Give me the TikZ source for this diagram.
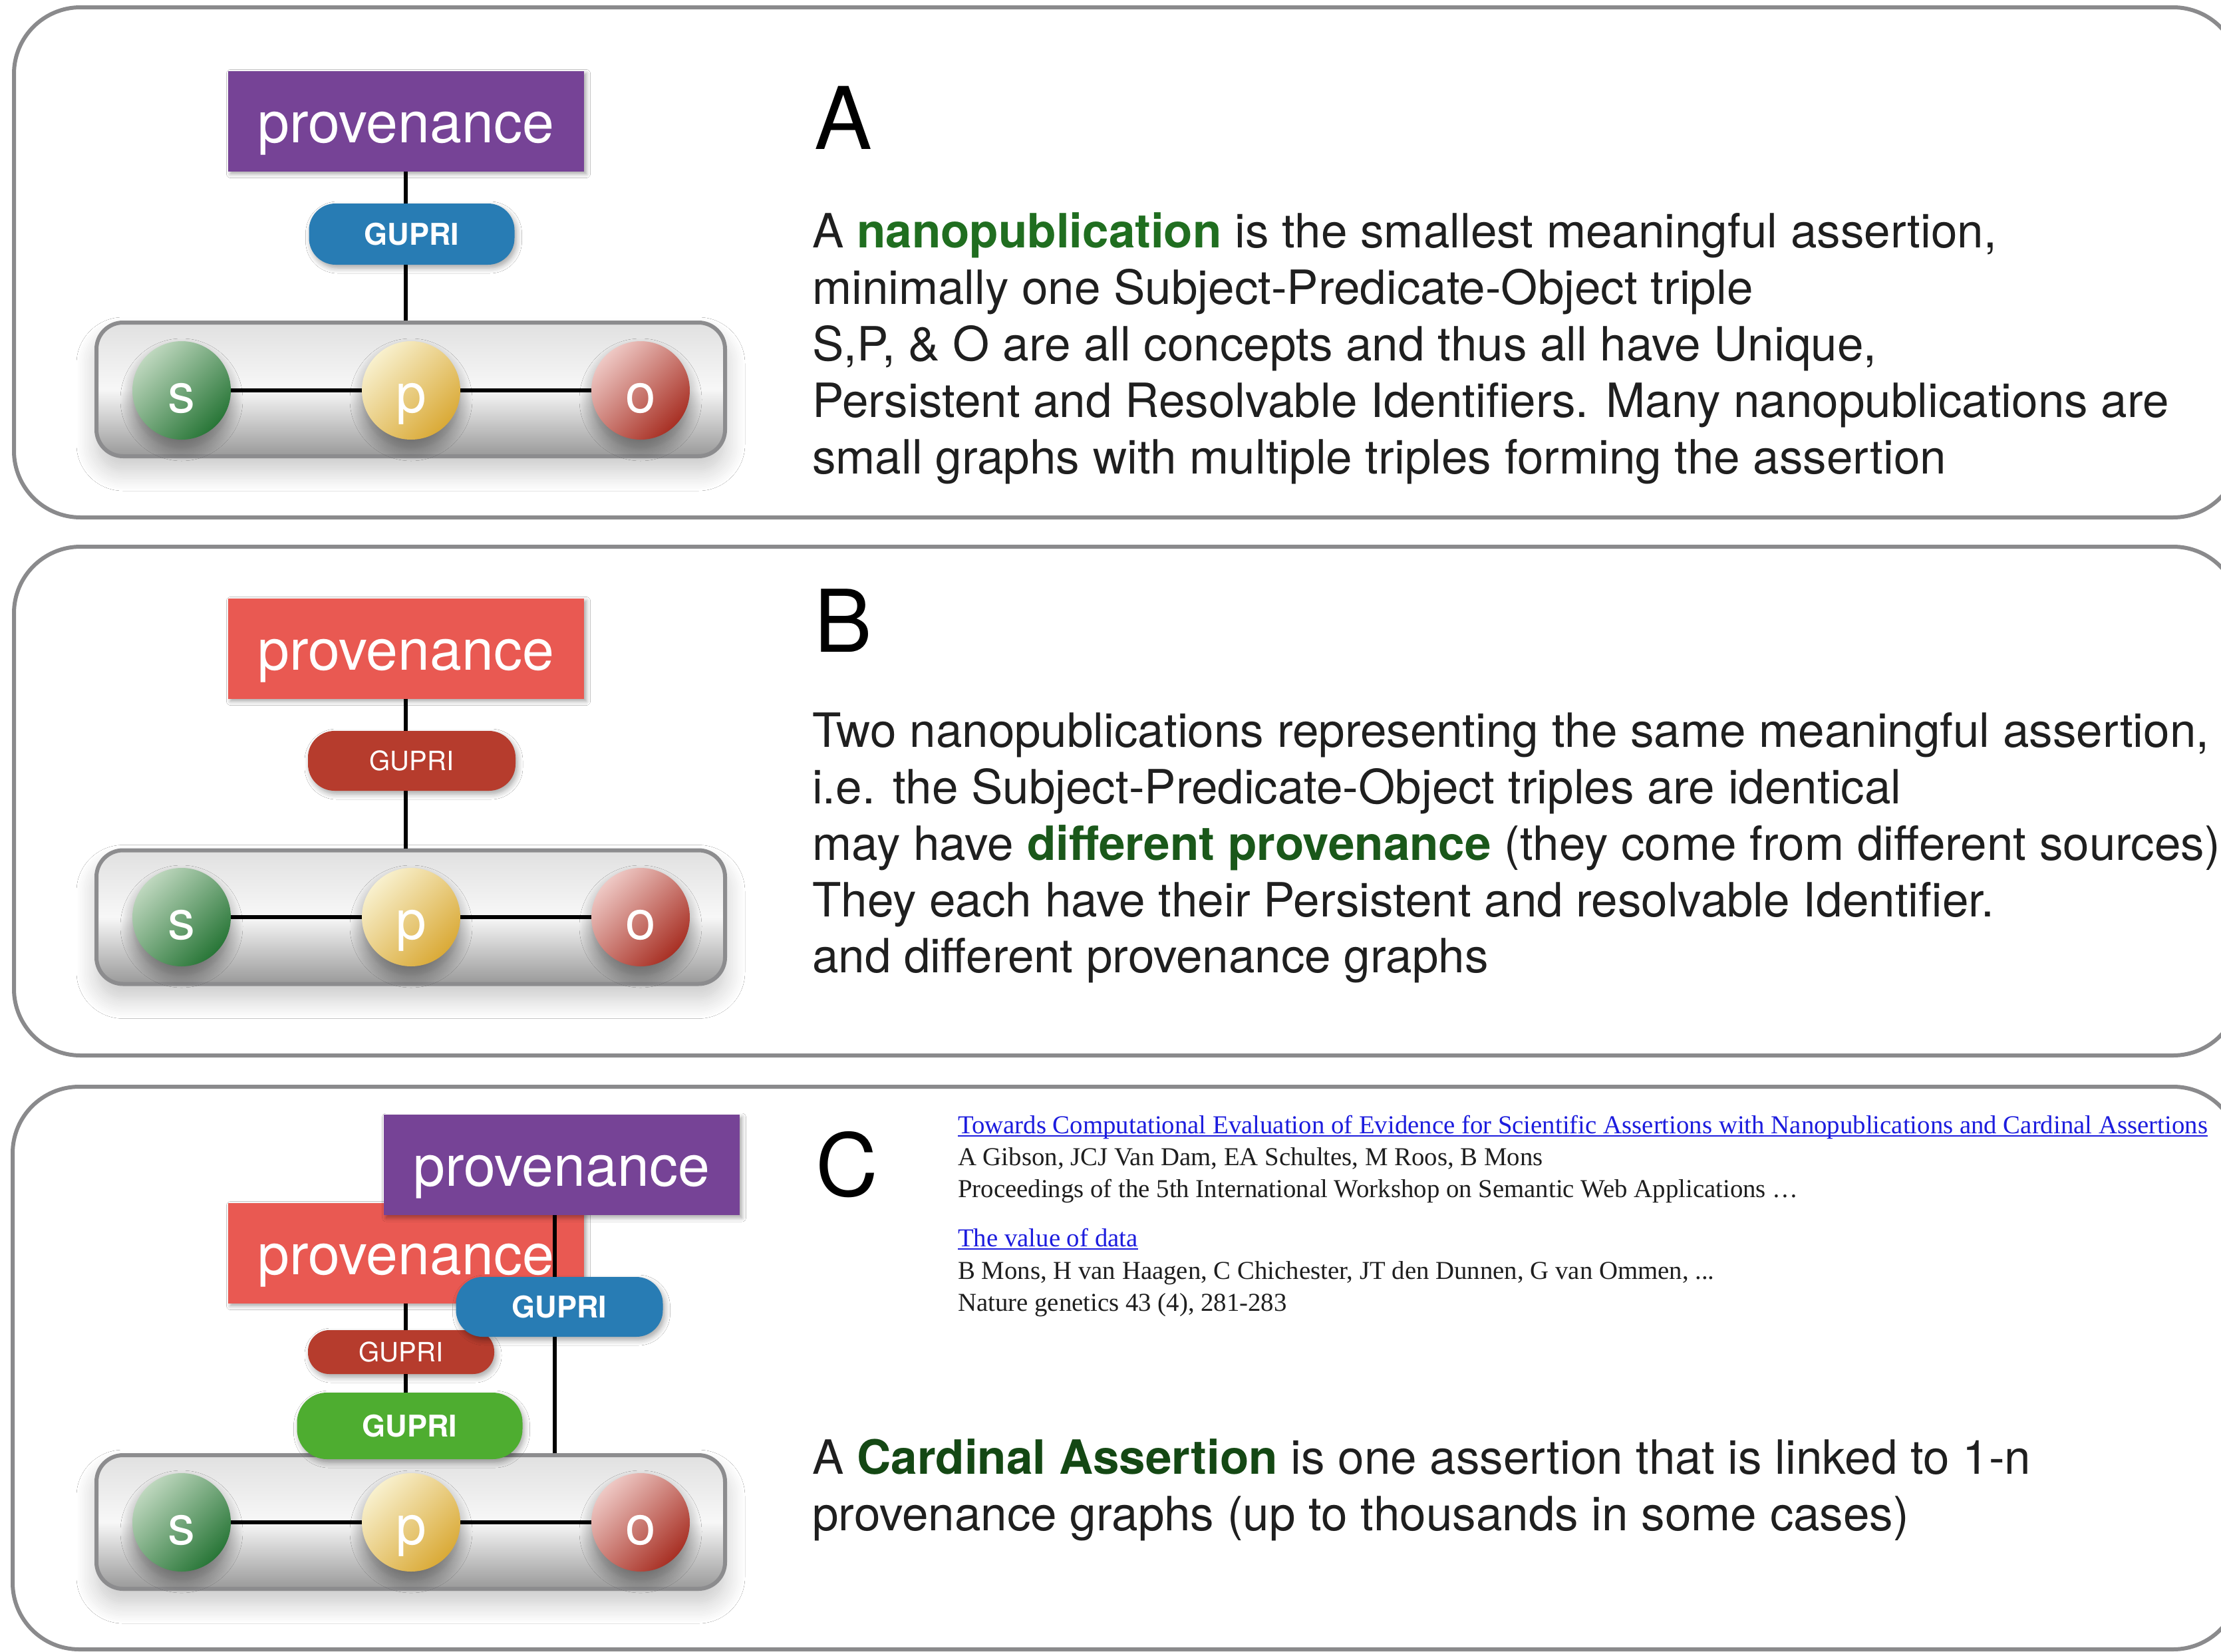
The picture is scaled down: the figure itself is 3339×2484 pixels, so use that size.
\documentclass[tikz,border=0pt]{standalone}
\usepackage{fontspec}
\setmainfont{TeX Gyre Heros}
\newfontfamily\reffont{Liberation Serif}
\usetikzlibrary{shadows.blur}

% colours
\definecolor{panelgray}{RGB}{138,138,140}
\definecolor{boxgray}{RGB}{140,140,142}
\definecolor{provpurple}{RGB}{118,67,150}
\definecolor{provred}{RGB}{233,89,82}
\definecolor{gupriblue}{RGB}{40,124,180}
\definecolor{gupridark}{RGB}{182,60,45}
\definecolor{guprigreen}{RGB}{78,173,48}
\definecolor{gL}{RGB}{190,215,190}
\definecolor{gD}{RGB}{40,118,55}
\definecolor{yL}{RGB}{248,240,205}
\definecolor{yD}{RGB}{218,170,55}
\definecolor{rL}{RGB}{238,200,196}
\definecolor{rD}{RGB}{168,48,36}
\definecolor{hlA}{RGB}{32,110,32}
\definecolor{hlB}{RGB}{26,88,26}
\definecolor{hlC}{RGB}{20,72,20}
\definecolor{linkblue}{RGB}{28,28,222}
\definecolor{reftext}{RGB}{30,30,30}

% fonts
\newcommand{\provfont}{\fontsize{86pt}{100pt}\selectfont}
\newcommand{\gbfont}{\fontsize{45pt}{54pt}\selectfont\bfseries}
\newcommand{\grfont}{\fontsize{40pt}{48pt}\selectfont}
\newcommand{\ballfont}{\fontsize{82pt}{96pt}\selectfont}
\newcommand{\bodyfont}{\fontsize{71pt}{85pt}\selectfont}
\newcommand{\letterfont}{\fontsize{130pt}{150pt}\selectfont}
\newcommand{\citefont}{\reffont\fontsize{38.8pt}{46pt}\selectfont}
% underlined link text
\newcommand{\ulink}[1]{\setbox0\hbox{#1}\rlap{\rule[-5pt]{\wd0}{2.2pt}}\box0}

\tikzset{
  panel/.style={draw=panelgray, line width=6pt, rounded corners=100pt},
  prov/.style={rectangle, fill=#1, minimum width=535pt, minimum height=151pt,
    inner sep=0pt, text=white, font=\provfont, text height=64pt, text depth=0pt,
    blur shadow={shadow xshift=4pt, shadow yshift=-4pt, shadow opacity=35,
      shadow blur radius=6pt, shadow blur steps=6}},
  gupri/.style={rectangle, rounded corners=40pt, fill=#1, text=white, inner sep=0pt,
    blur shadow={shadow xshift=3pt, shadow yshift=-5pt, shadow opacity=35,
      shadow blur radius=8pt, shadow blur steps=6}},
  spobox/.style={rectangle, rounded corners=40pt, draw=boxgray, line width=6pt,
    minimum width=945pt, minimum height=201pt, inner sep=0pt,
    top color=black!12, bottom color=black!40, middle color=black!3,
    blur shadow={shadow xshift=0pt, shadow yshift=-22pt, shadow opacity=22,
      shadow blur radius=30pt, shadow blur steps=12}},
  ball/.style={circle, minimum size=148pt, inner sep=0pt,
    top color=#1L, bottom color=#1D, shading angle=45,
    text=white, font=\ballfont, text height=66pt, text depth=0pt,
    blur shadow={shadow xshift=0pt, shadow yshift=-14pt, shadow opacity=40,
      shadow blur radius=18pt, shadow blur steps=10}},
  conn/.style={line width=6pt, black},
  body/.style={anchor=base west, inner sep=0pt, font=\bodyfont, text=black!88},
  letter/.style={anchor=base west, inner sep=0pt, font=\letterfont, text=black},
  cite/.style={anchor=base west, inner sep=0pt, font=\citefont, text=reftext},
}

\begin{document}
\begin{tikzpicture}[x=1pt, y=-1pt]
\useasboundingbox (0,0) rectangle (3339,2484);
\clip (0,0) rectangle (3339,2484);
\fill[white] (0,0) rectangle (3339,2484);

% the three panel frames
\draw[panel] (21,11) rectangle (3367,778);
\draw[panel] (21,822) rectangle (3367,1587);
\draw[panel] (19,1634) rectangle (3367,2480);

% ---------- panel A ----------
\node[spobox] (boxA) at (617.5,585.5) {};
\node[ball=g] (sA) at (273,587) {s};
\node[ball=y] (pA) at (618,587) {p};
\node[ball=r] (oA) at (963,587) {o};
\draw[conn] (sA) -- (pA);
\draw[conn] (pA) -- (oA);
\node[prov=provpurple] (provA) at (610,182) {provenance};
\draw[conn] (provA.south) -- (provA.south |- boxA.north);
\node[gupri=gupriblue, minimum width=309pt, minimum height=92pt, font=\gbfont]
  (gupA) at (619,352) {GUPRI};

\node[letter] (letA) at (1224,224) {A};
\node[body] (tA1) at (1221,372) {A {\bfseries\color{hlA}nanopublication} is the smallest meaningful assertion,};
\node[body] (tA2) at (1221,457) {minimally one Subject-Predicate-Object triple};
\node[body] (tA3) at (1221,542) {S,P, \& O are all concepts and thus all have Unique,};
\node[body] (tA4) at (1221,627) {Persistent and Resolvable Identifiers. Many nanopublications are};
\node[body] (tA5) at (1221,712) {small graphs with multiple triples forming the assertion};

% ---------- panel B ----------
\node[spobox] (boxB) at (617.5,1379) {};
\node[ball=g] (sB) at (273,1379) {s};
\node[ball=y] (pB) at (618,1379) {p};
\node[ball=r] (oB) at (963,1379) {o};
\draw[conn] (sB) -- (pB);
\draw[conn] (pB) -- (oB);
\node[prov=provred] (provB) at (610,975) {provenance};
\draw[conn] (provB.south) -- (provB.south |- boxB.north);
\node[gupri=gupridark, minimum width=312pt, minimum height=90pt, font=\grfont]
  (gupB) at (619,1144) {GUPRI};

\node[letter] (letB) at (1224,980) {B};
\node[body] (tB1) at (1221,1123) {Two nanopublications representing the same meaningful assertion,};
\node[body] (tB2) at (1221,1208) {i.e. the Subject-Predicate-Object triples are identical};
\node[body] (tB3) at (1221,1293) {may have {\bfseries\color{hlB}different provenance} (they come from different sources)};
\node[body] (tB4) at (1221,1378) {They each have their Persistent and resolvable Identifier.};
\node[body] (tB5) at (1221,1462) {and different provenance graphs};

% ---------- panel C ----------
\node[spobox] (boxC) at (617.5,2288.5) {};
\node[ball=g] (sC) at (273,2289) {s};
\node[ball=y] (pC) at (618,2289) {p};
\node[ball=r] (oC) at (963,2289) {o};
\draw[conn] (sC) -- (pC);
\draw[conn] (pC) -- (oC);
\node[prov=provred] (provC1) at (610,1884) {provenance};
\node[prov=provpurple] (provC2) at (844,1751.5) {provenance};
\draw[conn] ([xshift=-10pt]provC2.south) -- ([xshift=-10pt]provC2.south |- boxC.north);
\node[gupri=gupridark, minimum width=280pt, minimum height=66pt, rounded corners=32pt,
  font=\grfont] (gupC1) at (603,2033) {GUPRI};
\node[gupri=gupriblue, minimum width=311pt, minimum height=90pt, font=\gbfont]
  (gupC2) at (841,1965) {GUPRI};
\node[gupri=guprigreen, minimum width=339pt, minimum height=100pt, rounded corners=45pt,
  font=\gbfont] (gupC3) at (616,2144) {GUPRI};
\draw[conn] (provC1.south) -- (provC1.south |- gupC1.north);
\draw[conn] (provC1.south |- gupC1.south) -- (provC1.south |- gupC3.north);

\node[letter] (letC) at (1226,1798) {C};
\node[cite, text=linkblue] (rC1) at (1440,1704) {\ulink{Towards Computational Evaluation of Evidence for Scientific Assertions with Nanopublications and Cardinal Assertions}};
\node[cite] (rC2) at (1440,1752) {A Gibson, JCJ Van Dam, EA Schultes, M Roos, B Mons};
\node[cite] (rC3) at (1440,1800) {Proceedings of the 5th International Workshop on Semantic Web Applications …};
\node[cite, text=linkblue] (rC4) at (1440,1874) {\ulink{The value of data}};
\node[cite] (rC5) at (1440,1923) {B Mons, H van Haagen, C Chichester, JT den Dunnen, G van Ommen, ...};
\node[cite] (rC6) at (1440,1971) {Nature genetics 43 (4), 281-283};

\node[body] (tC1) at (1221,2216) {A {\bfseries\color{hlC}Cardinal Assertion} is one assertion that is linked to 1-n};
\node[body] (tC2) at (1221,2301) {provenance graphs (up to thousands in some cases)};
\end{tikzpicture}
\end{document}
